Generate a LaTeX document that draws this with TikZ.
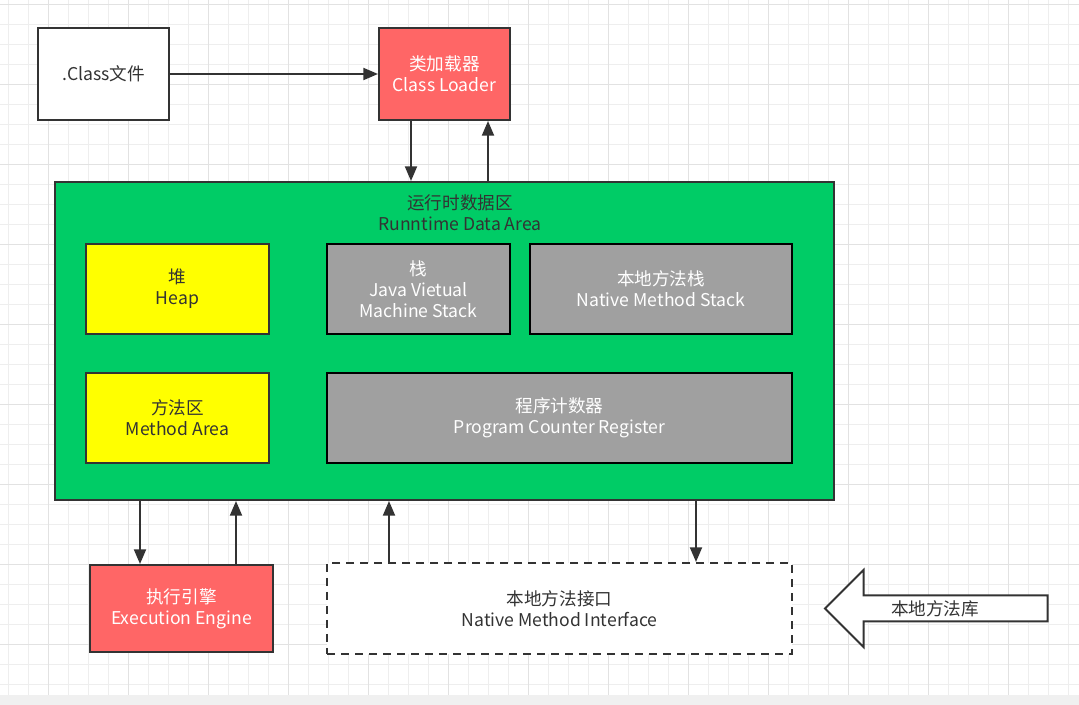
\documentclass[tikz,border=0pt]{standalone}
\usepackage{fontspec}
\setmainfont{Noto Sans CJK SC}
\usetikzlibrary{arrows.meta}
\definecolor{gridminor}{HTML}{EEEEEE}
\definecolor{gridmajor}{HTML}{E2E2E2}
\definecolor{strip}{HTML}{F0F0F0}
\definecolor{edge}{HTML}{333333}
\definecolor{txt}{HTML}{333333}
\definecolor{jgreen}{HTML}{00CC66}
\definecolor{jyellow}{HTML}{FFFF00}
\definecolor{jgray}{HTML}{A0A0A0}
\definecolor{jred}{HTML}{FF6666}
\tikzset{
  base/.style={draw=edge, line width=1.5pt, align=center, inner sep=0pt,
    font=\fontsize{13.2}{15.6}\selectfont, text=txt},
  whitebox/.style={base, fill=white},
  redbox/.style={base, fill=jred, text=white},
  yellowbox/.style={base, fill=jyellow},
  graybox/.style={base, draw=black, fill=jgray, text=white},
  greenbox/.style={base, fill=jgreen},
  dashbox/.style={base, fill=white, dash pattern=on 6pt off 4.5pt},
  arr/.style={draw=edge, line width=1.5pt, -{Triangle[length=11pt,width=9pt]}},
  lbl/.style={align=center, font=\fontsize{13.2}{15.6}\selectfont, text=txt, inner sep=0pt},
}
\begin{document}
\begin{tikzpicture}[x=0.75pt, y=-0.75pt]
\useasboundingbox (0,0) rectangle (1079,705);
% background grid
\fill[white] (0,0) rectangle (1079,695);
\foreach \x in {8,28,...,1068} \draw[gridminor, line width=0.75pt] (\x,0) -- (\x,695);
\foreach \y in {5,25,...,685} \draw[gridminor, line width=0.75pt] (0,\y) -- (1079,\y);
\foreach \x in {48,128,...,1008} \draw[gridmajor, line width=0.75pt] (\x,0) -- (\x,695);
\foreach \y in {5,85,...,645} \draw[gridmajor, line width=0.75pt] (0,\y) -- (1079,\y);
\fill[strip] (0,695) rectangle (1079,705);

% top row
\node[whitebox, minimum width=98.25pt, minimum height=69pt] (cls) at (103.5,74) {.Class文件};
\node[redbox, minimum width=98.25pt, minimum height=69pt] (loader) at (444.5,74) {类加载器\\Class Loader};

% runtime data area
\node[greenbox, minimum width=584.25pt, minimum height=238.5pt] (rda) at (444.5,341) {};
\node[lbl] (rdatitle) at (460,212.5) {运行时数据区\\Runntime Data Area};
\node[yellowbox, minimum width=137.25pt, minimum height=67.5pt] (heap) at (177.5,289) {堆\\Heap};
\node[graybox, minimum width=137.25pt, minimum height=67.5pt] (stack) at (418.5,289) {栈\\Java Vietual\\Machine Stack};
\node[graybox, minimum width=196.5pt, minimum height=67.5pt] (nstack) at (661,289) {本地方法栈\\Native Method Stack};
\node[yellowbox, minimum width=137.25pt, minimum height=67.5pt] (method) at (177.5,418) {方法区\\Method Area};
\node[graybox, minimum width=348.75pt, minimum height=67.5pt] (pc) at (559.5,418) {程序计数器\\Program Counter Register};

% bottom row
\node[redbox, minimum width=137.25pt, minimum height=65.25pt] (engine) at (181.5,608.5) {执行引擎\\Execution Engine};
\node[dashbox, minimum width=348.75pt, minimum height=68.25pt] (nmi) at (559.5,608.5) {本地方法接口\\Native Method Interface};

% native library arrow
\draw[edge, line width=1.5pt, fill=white, line join=miter]
  (825,608.5) -- (863.5,570) -- (863.5,595.5) -- (1047.5,595.5) -- (1047.5,621.5)
  -- (863.5,621.5) -- (863.5,647) -- cycle;
\node[lbl] (nlib) at (935,608.5) {本地方法库};

% connectors
\coordinate (c1) at (411,0);
\coordinate (c2) at (488,0);
\coordinate (c3) at (140,0);
\coordinate (c4) at (236,0);
\coordinate (c5) at (389,0);
\coordinate (c6) at (696,0);
\draw[arr] (cls.east) -- (loader.west);
\draw[arr] (loader.south -| c1) -- (rda.north -| c1);
\draw[arr] (rda.north -| c2) -- (loader.south -| c2);
\draw[arr] (rda.south -| c3) -- (engine.north -| c3);
\draw[arr] (engine.north -| c4) -- (rda.south -| c4);
\draw[arr] (nmi.north -| c5) -- (rda.south -| c5);
\draw[arr] (rda.south -| c6) -- (nmi.north -| c6);
\end{tikzpicture}
\end{document}
